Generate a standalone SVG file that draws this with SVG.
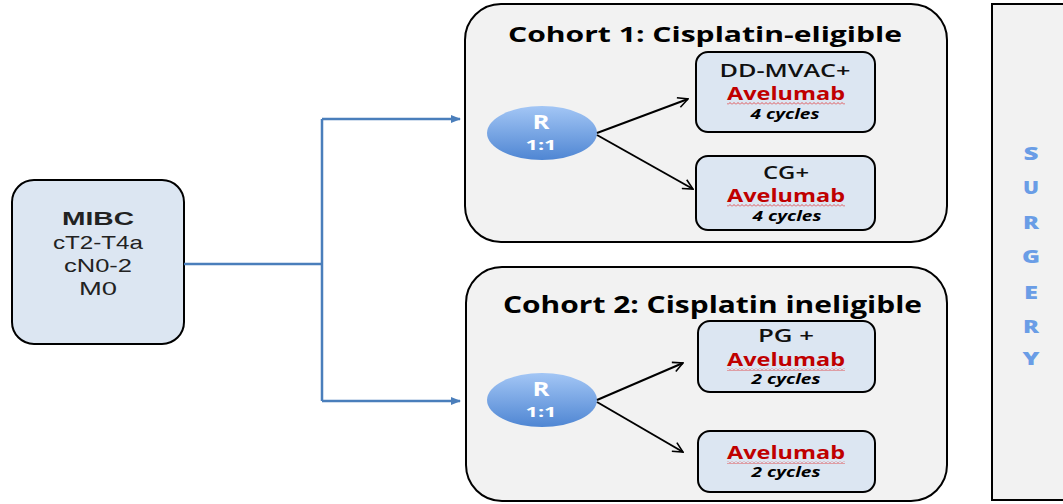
<svg xmlns="http://www.w3.org/2000/svg" width="1063" height="504" viewBox="0 0 1063 504">
<defs>
<style>
.cohort{fill:#f2f2f2;stroke:#000;stroke-width:2}
.arm{fill:#dce6f2;stroke:#000;stroke-width:2}
.title{font-family:"Open Sans","Liberation Sans",sans-serif;font-weight:bold;fill:#000}
.t{font-family:"Open Sans","Liberation Sans",sans-serif;fill:#000;text-anchor:middle}
.m{font-family:"Liberation Sans","Open Sans",sans-serif;fill:#222;text-anchor:middle}
.b{font-weight:bold}
.sb{font-weight:600;fill:#111}
.red{fill:#c00000;font-weight:bold}
.cyc{font-style:italic;font-weight:bold;font-size:14px}
.rt{font-family:"Open Sans","Liberation Sans",sans-serif;font-weight:bold;fill:#fff;text-anchor:middle}
.surg{font-family:"Open Sans","Liberation Sans",sans-serif;font-weight:800;fill:#6a9de6;font-size:18px;text-anchor:middle}
.blue{fill:none;stroke:#4a7ebb;stroke-width:2.5}
.blk{fill:none;stroke:#000;stroke-width:2}
</style>
<linearGradient id="rg" x1="0" y1="0" x2="0" y2="1">
<stop offset="0" stop-color="#a3c6f5"/>
<stop offset="1" stop-color="#4f86d3"/>
</linearGradient>
<marker id="ba" viewBox="0 0 10 10" refX="9" refY="5" markerWidth="4" markerHeight="4" orient="auto" markerUnits="strokeWidth">
<path d="M0,1 L10,5 L0,9 Z" fill="#4a7ebb"/>
</marker>
<marker id="ka" viewBox="0 0 12 12" refX="11" refY="6" markerWidth="6" markerHeight="6" orient="auto" markerUnits="strokeWidth">
<path d="M1,1 L11,6 L1,11" fill="none" stroke="#000" stroke-width="1.6"/>
</marker>
<pattern id="wv" width="4" height="3" patternUnits="userSpaceOnUse">
<path d="M0,2.5 L2,0.5 L4,2.5" fill="none" stroke="#e03030" stroke-width="0.8"/>
</pattern>
</defs>
<rect width="1063" height="504" fill="#fff"/>

<g id="surgery">
<rect x="992" y="4" width="80" height="496" fill="#f2f2f2" stroke="#000" stroke-width="2"/>
<text class="surg" x="1031" y="160" textLength="15" lengthAdjust="spacingAndGlyphs">S</text>
<text class="surg" x="1031" y="194" textLength="16" lengthAdjust="spacingAndGlyphs">U</text>
<text class="surg" x="1031" y="229" textLength="16" lengthAdjust="spacingAndGlyphs">R</text>
<text class="surg" x="1031" y="263" textLength="18" lengthAdjust="spacingAndGlyphs">G</text>
<text class="surg" x="1031" y="299" textLength="14" lengthAdjust="spacingAndGlyphs">E</text>
<text class="surg" x="1031" y="333" textLength="16" lengthAdjust="spacingAndGlyphs">R</text>
<text class="surg" x="1031" y="365" textLength="17" lengthAdjust="spacingAndGlyphs">Y</text>
</g>

<g id="mibc">
<rect x="12" y="180" width="172" height="164" rx="22" class="arm"/>
<text class="m b" x="98" y="225" font-size="19" textLength="72" lengthAdjust="spacingAndGlyphs">MIBC</text>
<text class="m" x="98" y="249" font-size="19" textLength="90" lengthAdjust="spacingAndGlyphs">cT2-T4a</text>
<text class="m" x="98" y="272" font-size="19" textLength="68" lengthAdjust="spacingAndGlyphs">cN0-2</text>
<text class="m" x="98" y="295" font-size="19" textLength="38" lengthAdjust="spacingAndGlyphs">M0</text>
</g>

<g id="cohort1">
<rect x="465" y="4" width="482" height="238" rx="36" class="cohort"/>
<text class="title" x="508" y="42" font-size="22" textLength="394" lengthAdjust="spacingAndGlyphs">Cohort 1: Cisplatin-eligible</text>
</g>
<g id="r1">
<ellipse cx="542" cy="133" rx="55" ry="27" fill="url(#rg)"/>
<text class="rt" x="541" y="129" font-size="19" textLength="17" lengthAdjust="spacingAndGlyphs">R</text>
<text class="rt" x="541" y="150" font-size="15" textLength="31" lengthAdjust="spacingAndGlyphs">1:1</text>
</g>
<g id="ddmvac">
<rect x="696" y="52" width="179" height="80" rx="12" class="arm"/>
<text class="t sb" x="785" y="77" font-size="18" textLength="131" lengthAdjust="spacingAndGlyphs">DD-MVAC+</text>
<text class="t red" x="786" y="100" font-size="18" textLength="118" lengthAdjust="spacingAndGlyphs">Avelumab</text>
<rect x="727" y="102" width="118" height="3" fill="url(#wv)"/>
<text class="t cyc" x="785" y="119" textLength="69" lengthAdjust="spacingAndGlyphs">4 cycles</text>
</g>
<g id="cg">
<rect x="696" y="156" width="179" height="74" rx="12" class="arm"/>
<text class="t sb" x="786" y="179" font-size="18" textLength="46" lengthAdjust="spacingAndGlyphs">CG+</text>
<text class="t red" x="786" y="202" font-size="18" textLength="118" lengthAdjust="spacingAndGlyphs">Avelumab</text>
<rect x="727" y="204" width="118" height="3" fill="url(#wv)"/>
<text class="t cyc" x="787" y="221" textLength="69" lengthAdjust="spacingAndGlyphs">4 cycles</text>
</g>

<g id="cohort2">
<rect x="466" y="267" width="481" height="234" rx="36" class="cohort"/>
<text class="title" x="503" y="313" font-size="24" textLength="419" lengthAdjust="spacingAndGlyphs">Cohort 2: Cisplatin ineligible</text>
</g>
<g id="r2">
<ellipse cx="542" cy="400" rx="55" ry="27" fill="url(#rg)"/>
<text class="rt" x="541" y="396" font-size="19" textLength="17" lengthAdjust="spacingAndGlyphs">R</text>
<text class="rt" x="541" y="417" font-size="15" textLength="31" lengthAdjust="spacingAndGlyphs">1:1</text>
</g>
<g id="pg">
<rect x="698" y="321" width="177" height="71" rx="12" class="arm"/>
<text class="t sb" x="786" y="342" font-size="18" textLength="56" lengthAdjust="spacingAndGlyphs">PG +</text>
<text class="t red" x="786" y="366" font-size="18" textLength="118" lengthAdjust="spacingAndGlyphs">Avelumab</text>
<rect x="727" y="368" width="118" height="3" fill="url(#wv)"/>
<text class="t cyc" x="786" y="384" textLength="69" lengthAdjust="spacingAndGlyphs">2 cycles</text>
</g>
<g id="ave">
<rect x="698" y="431" width="177" height="61" rx="12" class="arm"/>
<text class="t red" x="786" y="459" font-size="18" textLength="118" lengthAdjust="spacingAndGlyphs">Avelumab</text>
<rect x="727" y="461" width="118" height="3" fill="url(#wv)"/>
<text class="t cyc" x="786" y="477" textLength="69" lengthAdjust="spacingAndGlyphs">2 cycles</text>
</g>

<g id="connectors">
<path class="blue" d="M184,264 H322" stroke-width="3"/>
<path class="blue" d="M322,119 V401"/>
<path class="blue" d="M322,119 H460" marker-end="url(#ba)"/>
<path class="blue" d="M322,401 H460" marker-end="url(#ba)"/>
<path class="blk" d="M597,133 L688,99" marker-end="url(#ka)"/>
<path class="blk" d="M597,135 L693,189" marker-end="url(#ka)"/>
<path class="blk" d="M597,400 L683,363" marker-end="url(#ka)"/>
<path class="blk" d="M597,402 L683,452" marker-end="url(#ka)"/>
</g>
</svg>
